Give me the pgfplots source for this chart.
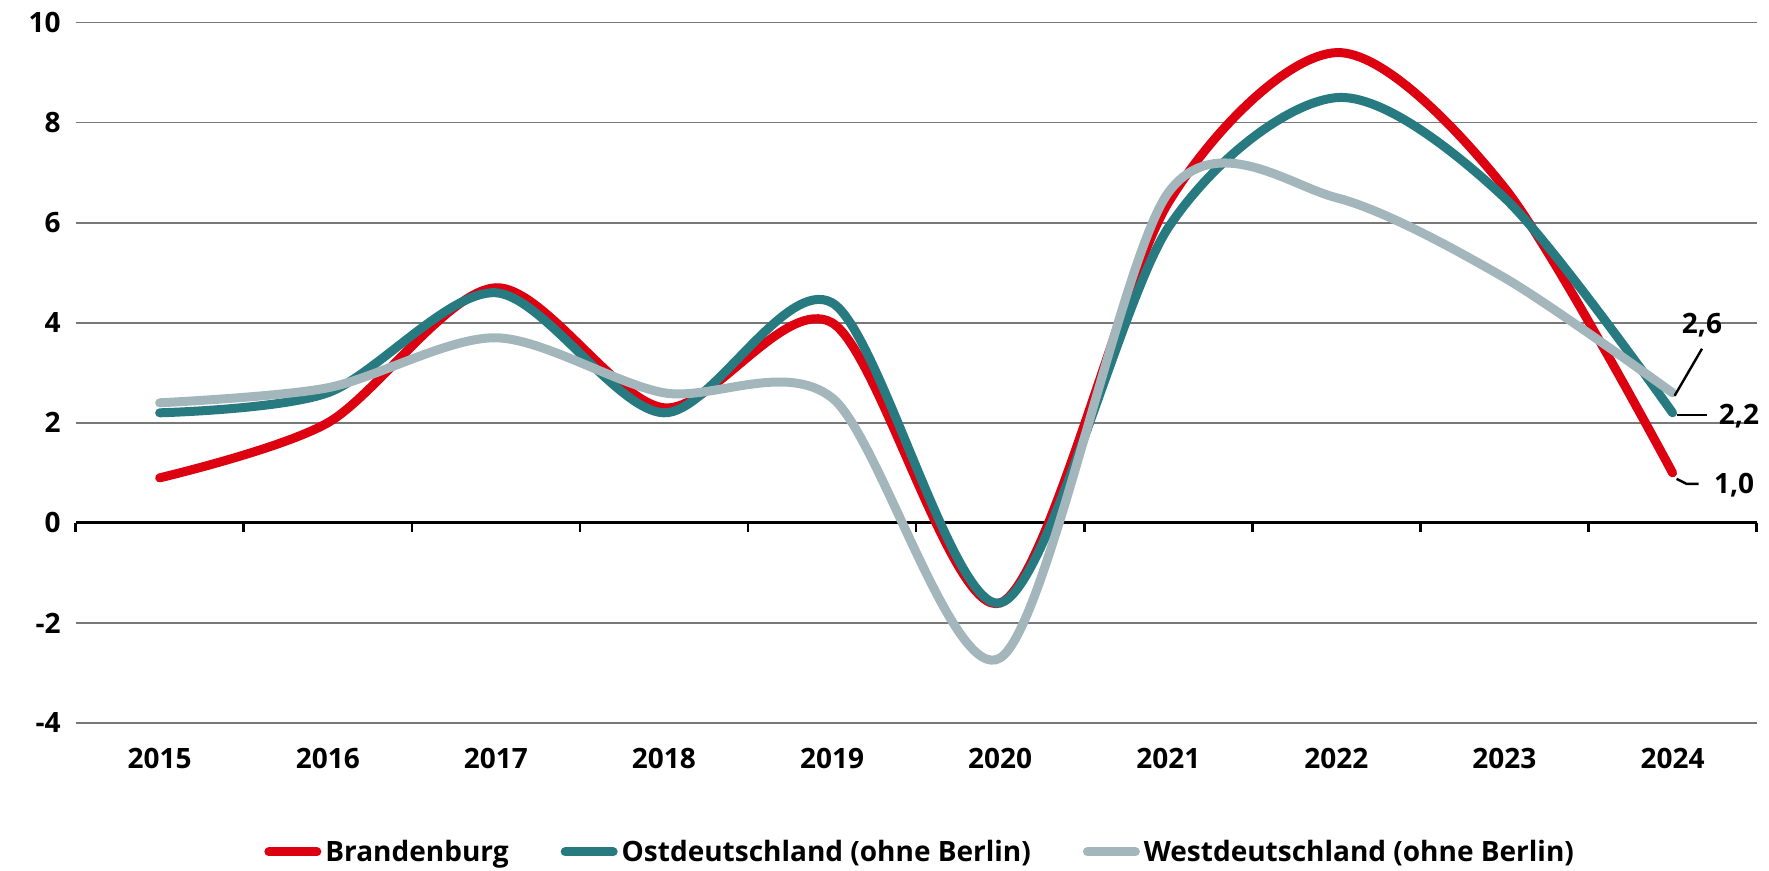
\documentclass[border=0pt]{standalone}
\usepackage{fontspec}
\setmainfont{Open Sans}
\usepackage{pgfplots}
\pgfplotsset{compat=1.18}
\definecolor{bbred}{RGB}{220,0,16}
\definecolor{ostteal}{RGB}{38,122,128}
\definecolor{westgray}{RGB}{162,182,187}
\definecolor{gridgray}{RGB}{120,120,120}
\begin{document}
\begin{tikzpicture}
\path[use as bounding box] (-37.8pt,-74pt) rectangle (846.7pt,361.5pt);
\begin{axis}[
  at={(0pt,0pt)}, anchor=south west,
  scale only axis, width=840.5pt, height=350.2pt,
  xmin=-0.5, xmax=9.5, ymin=-4, ymax=10,
  axis line style={draw=none},
  xtick={0,...,9},
  xticklabels={2015,2016,2017,2018,2019,2020,2021,2022,2023,2024},
  ytick={-4,-2,0,2,4,6,8,10},
  yticklabels={-4,-2,0,2,4,6,8,10},
  major tick length=0pt,
  ymajorgrids, xmajorgrids=false,
  grid style={draw=gridgray, line width=0.8pt},
  tick label style={font=\fontsize{14}{16}\selectfont\bfseries},
  xticklabel style={yshift=-9pt},
  yticklabel style={xshift=-4pt},
  clip=false,
  legend columns=3,
  legend style={at={(0.503,-0.184)}, anchor=center, draw=none, fill=none,
    font=\fontsize{14}{16}\selectfont\bfseries,
    /tikz/every odd column/.append style={column sep=0pt},
    /tikz/every even column/.append style={column sep=24pt},
    inner sep=0pt},
  legend cell align=left,
  legend image code/.code={\draw[#1, line width=4.5pt, line cap=round] (0pt,0pt) -- (24pt,0pt);},
]
\draw[black, line width=1.6pt] (axis cs:-0.5,0) -- (axis cs:9.5,0);
\pgfplotsinvokeforeach{-0.5,0.5,1.5,2.5,3.5,4.5,5.5,6.5,7.5,8.5,9.5}{
  \draw[black, line width=1.3pt] (axis cs:#1,0) -- ++(0pt,-4.5pt);
}
\addplot[bbred, line width=4.5pt, line cap=round, smooth, tension=0.5, forget plot] coordinates {
  (0,0.9) (1,2.0) (2,4.7) (3,2.3) (4,4.0) (5,-1.6) (6,6.4) (7,9.4) (8,6.7) (9,1.0)};
\addplot[ostteal, line width=4.5pt, line cap=round, smooth, tension=0.5, forget plot] coordinates {
  (0,2.2) (1,2.6) (2,4.6) (3,2.2) (4,4.4) (5,-1.6) (6,5.9) (7,8.5) (8,6.5) (9,2.2)};
\addplot[westgray, line width=4.5pt, line cap=round, smooth, tension=0.5, forget plot] coordinates {
  (0,2.4) (1,2.7) (2,3.7) (3,2.6) (4,2.5) (5,-2.7) (6,6.6) (7,6.5) (8,4.9) (9,2.6)};
% legend entries
\addlegendimage{bbred}
\addlegendentry{Brandenburg}
\addlegendimage{ostteal}
\addlegendentry{Ostdeutschland (ohne Berlin)}
\addlegendimage{westgray}
\addlegendentry{Westdeutschland (ohne Berlin)}
% data labels
\draw[black, line width=1.2pt] (axis cs:9.012,2.54) -- (axis cs:9.175,3.48);
\node[font=\fontsize{14}{16}\selectfont\bfseries] at (axis cs:9.175,3.96) {2,6};
\draw[black, line width=1.2pt] (axis cs:9.024,2.16) -- (axis cs:9.204,2.16);
\node[font=\fontsize{14}{16}\selectfont\bfseries] at (axis cs:9.395,2.14) {2,2};
\draw[black, line width=1.2pt] (axis cs:9.024,0.88) -- (axis cs:9.083,0.78) -- (axis cs:9.155,0.78);
\node[font=\fontsize{14}{16}\selectfont\bfseries] at (axis cs:9.366,0.76) {1,0};
\end{axis}
\end{tikzpicture}
\end{document}
